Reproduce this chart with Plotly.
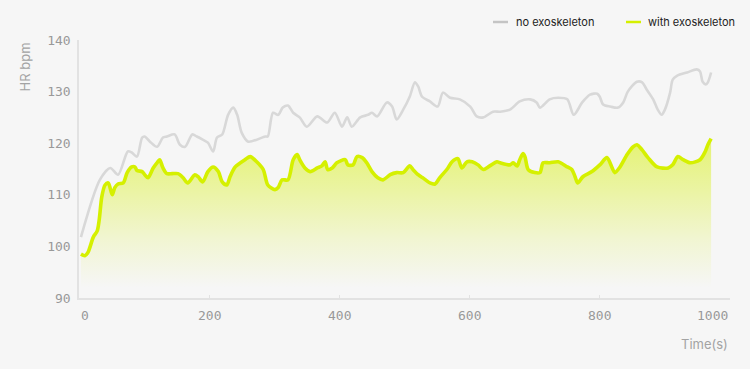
import plotly.graph_objects as go

# ---- data ----
time_no = [3, 32, 48, 60, 75, 81, 89, 97, 101, 109, 120, 129, 135, 147, 155, 163, 174, 181, 190, 198,
           206, 212, 220, 229, 237, 243, 250, 260, 286, 290, 298, 306, 313, 321, 329, 339, 350, 366, 381,
           393, 404, 412, 419, 432, 444, 450, 458, 473, 481, 488, 498, 508, 516, 521, 527, 539, 551, 559,
           570, 585, 601, 611, 621, 636, 647, 662, 677, 693, 703, 708, 723, 736, 750, 760, 773, 785, 796,
           800, 805, 816, 828, 836, 843, 857, 865, 872, 882, 889, 895, 900, 908, 912, 919, 934, 949, 954,
           958, 963, 966, 971]
hr_no = [101.8, 112.9, 115.2, 113.9, 118.4, 118.2, 117.4, 121.1, 121.3, 120.3, 119.3, 121.1, 121.3, 121.7,
         119.7, 119.3, 121.7, 121.3, 120.7, 120.1, 118.4, 121.1, 121.7, 125.5, 126.9, 125.5, 122.0, 120.3,
         121.3, 121.3, 125.9, 125.5, 126.9, 127.3, 125.9, 125.0, 123.2, 125.2, 124.0, 125.9, 123.2, 125.0,
         123.2, 125.0, 125.5, 125.9, 125.2, 127.9, 127.1, 124.6, 126.5, 129.0, 131.8, 131.0, 129.0, 128.1,
         127.1, 129.8, 128.8, 128.5, 127.1, 125.2, 125.0, 126.1, 126.1, 126.5, 128.1, 128.5, 127.9, 126.9,
         128.5, 128.8, 128.5, 125.5, 127.9, 129.4, 129.6, 129.0, 127.5, 127.1, 126.9, 127.9, 130.0, 131.9,
         131.8, 130.4, 128.5, 126.5, 125.5, 126.5, 129.8, 132.3, 133.1, 133.7, 134.3, 133.9, 131.9, 131.4,
         131.8, 133.7]

time_exo = [3, 9, 14, 22, 28, 31, 35, 40, 45, 51, 55, 60, 68, 74, 81, 86, 89, 97, 101, 106, 114, 121, 124,
            129, 135, 143, 152, 160, 167, 178, 183, 190, 198, 206, 214, 220, 227, 232, 240, 255, 263, 273,
            283, 290, 301, 306, 312, 321, 329, 335, 339, 347, 355, 366, 373, 378, 382, 389, 396, 409, 413,
            421, 427, 435, 442, 450, 459, 467, 478, 488, 498, 508, 513, 521, 528, 539, 547, 554, 565, 573,
            582, 588, 596, 604, 613, 621, 631, 642, 647, 662, 667, 673, 677, 682, 685, 690, 700, 708, 713,
            723, 736, 750, 757, 762, 766, 774, 788, 800, 811, 819, 823, 831, 842, 851, 857, 865, 874, 888,
            905, 912, 920, 928, 939, 954, 962, 966, 971]
hr_exo = [98.5, 98.2, 98.9, 101.8, 103.0, 105.1, 109.6, 111.9, 112.3, 110.0, 111.4, 112.1, 112.3, 114.3,
          115.4, 115.4, 114.7, 114.5, 113.9, 113.3, 115.2, 116.4, 116.8, 115.2, 114.1, 114.1, 114.1, 113.3,
          112.3, 113.9, 113.5, 112.5, 114.5, 115.4, 114.5, 112.5, 111.9, 113.5, 115.4, 116.8, 117.4, 116.4,
          114.9, 111.9, 111.0, 111.4, 112.9, 112.9, 116.8, 117.8, 116.8, 115.2, 114.5, 115.2, 115.6, 116.4,
          114.9, 115.2, 116.2, 116.8, 115.8, 115.8, 117.4, 117.2, 116.2, 114.5, 113.3, 112.9, 113.9, 114.3,
          114.3, 115.6, 114.9, 113.9, 113.3, 112.3, 112.1, 113.3, 114.9, 116.4, 117.0, 115.2, 116.4, 116.4,
          115.8, 114.9, 115.6, 116.4, 116.2, 115.8, 116.2, 115.6, 116.8, 118.0, 117.4, 114.9, 114.3, 114.3,
          116.2, 116.2, 116.4, 115.4, 114.9, 113.5, 112.3, 113.5, 114.5, 115.8, 117.2, 115.2, 114.3, 115.4,
          117.8, 119.3, 119.7, 118.7, 117.2, 115.4, 115.2, 115.8, 117.4, 116.8, 116.2, 116.8, 118.4, 119.7,
          120.9]

series_names = ["no exoskeleton", "with exoskeleton"]
x_ticks = [0, 200, 400, 600, 800, 1000]
x_tick_labels = ["0", "200", "400", "600", "800", "1000"]
y_ticks = [90, 100, 110, 120, 130, 140]

GRAY = "#d8d8d8"
LIME = "#d5f000"
BG = "#f6f6f6"
TICK_FONT = dict(family="DejaVu Sans Mono", size=13, color="#999999")

fig = go.Figure()
fig.add_trace(go.Scatter(
    x=time_no, y=hr_no, mode="lines", name=series_names[0],
    line=dict(color=GRAY, width=2.6, shape="spline", smoothing=0.8),
    showlegend=False, hoverinfo="skip"))
fig.add_trace(go.Scatter(
    x=time_exo, y=hr_exo, mode="lines", name=series_names[1],
    line=dict(color=LIME, width=3.6, shape="spline", smoothing=0.8),
    fill="tozeroy",
    fillgradient=dict(type="vertical",
                      colorscale=[[0, "rgba(213,240,0,0.0)"], [0.35, "rgba(213,240,0,0.15)"],
                                  [1, "rgba(213,240,0,0.5)"]],
                      start=92, stop=119),
    showlegend=False, hoverinfo="skip"))

annotations = []
for v, t in zip(x_ticks, x_tick_labels):
    anchor = "left" if v == x_ticks[0] else ("right" if v == x_ticks[-1] else "center")
    annotations.append(dict(x=v, y=0, xref="x", yref="paper", text=t, showarrow=False,
                            xanchor=anchor, yanchor="top", yshift=-8, font=TICK_FONT))
annotations.append(dict(x=-0.083, y=1.0, xref="paper", yref="paper", text="HR bpm", showarrow=False,
                        textangle=-90, xanchor="center", yanchor="top",
                        font=dict(family="Inter", size=13, color="#a3a3a3")))
annotations.append(dict(x=1.0, y=-0.178, xref="paper", yref="paper", text="Time(s)", showarrow=False,
                        xanchor="right", yanchor="middle",
                        font=dict(family="Inter", size=13, color="#a3a3a3")))

# custom legend (top right)
leg_y = 22
def px_x(p):
    return (p - 79) / 651.0
def px_y(p):
    return (298 - p) / 258.0

shapes = [
    dict(type="line", xref="paper", yref="paper", x0=px_x(493), x1=px_x(508), y0=px_y(leg_y), y1=px_y(leg_y),
         line=dict(color="#c4c4c4", width=2.5)),
    dict(type="line", xref="paper", yref="paper", x0=px_x(626), x1=px_x(641), y0=px_y(leg_y), y1=px_y(leg_y),
         line=dict(color=LIME, width=2.5)),
]
annotations.append(dict(x=px_x(514), y=px_y(leg_y), xref="paper", yref="paper", text=series_names[0],
                        showarrow=False, xanchor="left", yanchor="middle",
                        font=dict(family="Inter", size=11, color="#222222")))
annotations.append(dict(x=px_x(646), y=px_y(leg_y), xref="paper", yref="paper", text=series_names[1],
                        showarrow=False, xanchor="left", yanchor="middle",
                        font=dict(family="Inter", size=11, color="#222222")))

fig.update_layout(
    width=750, height=369,
    margin=dict(l=79, r=20, t=40, b=71),
    paper_bgcolor=BG, plot_bgcolor=BG,
    showlegend=False,
    annotations=annotations,
    shapes=shapes,
    xaxis=dict(range=[0, 1000], tickvals=x_ticks, showticklabels=False, showgrid=False, zeroline=False,
               showline=True, linecolor="#e2e2e2", linewidth=1.5, ticks="inside", ticklen=3,
               tickcolor="#e2e2e2", tickwidth=1),
    yaxis=dict(range=[90, 140], tickvals=y_ticks, showgrid=False, zeroline=False,
               showline=True, linecolor="#e2e2e2", linewidth=1.5, ticks="", tickfont=TICK_FONT,
               ticklabelstandoff=4),
)

fig.write_html("out.html",
               config={"displayModeBar": False},
               post_script="document.body.style.margin='0px';document.body.style.padding='0px';"
                           "document.body.style.background='#f6f6f6';document.body.style.overflow='hidden';")
